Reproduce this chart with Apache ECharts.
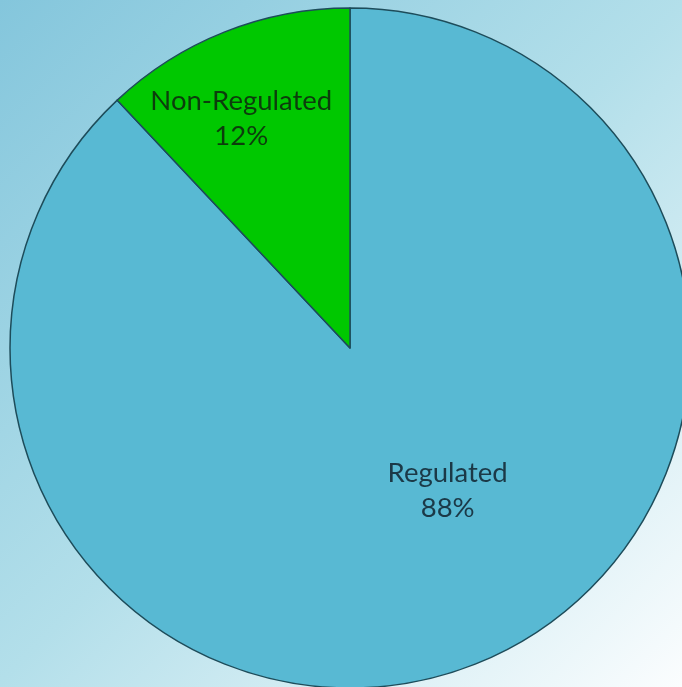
<!DOCTYPE html>
<html>
<head>
<meta charset="utf-8">
<script src="https://cdn.jsdelivr.net/npm/echarts@6/dist/echarts.min.js"></script>
<style>
html, body { margin: 0; padding: 0; }
#main { width: 682px; height: 687px; }
</style>
</head>
<body>
<div id="main"></div>
<script>
var categories = ['Regulated', 'Non-Regulated'];
var shares = [88, 12];
var sliceColors = ['#58b9d3', '#00c800'];
var labelColors = ['#1b3947', '#0c3d0c'];
// nudges so labels sit where the original put them
var labelShift = [[34, -18], [-45, -69]];

var chart = echarts.init(document.getElementById('main'));

var pieData = categories.map(function (name, i) {
    return {
        name: name,
        value: shares[i],
        itemStyle: { color: sliceColors[i] },
        label: { color: labelColors[i] }
    };
});

var option = {
    backgroundColor: {
        type: 'linear',
        x: 0, y: 0, x2: 1, y2: 1,
        colorStops: [
            { offset: 0, color: '#84c6dc' },
            { offset: 0.5, color: '#b3dfea' },
            { offset: 1, color: '#fbfdfe' }
        ]
    },
    series: [{
        type: 'pie',
        center: [350, 348],
        radius: [0, 340],
        startAngle: 90,
        clockwise: true,
        animation: false,
        silent: true,
        itemStyle: {
            borderColor: '#1d4c5a',
            borderWidth: 1.5
        },
        label: {
            show: true,
            position: 'inside',
            fontFamily: 'Lato',
            fontSize: 27.5,
            lineHeight: 35,
            formatter: function (p) {
                return p.name + '\n' + p.value + '%';
            }
        },
        labelLine: { show: false },
        labelLayout: function (p) {
            var s = labelShift[p.dataIndex];
            return { dx: s[0], dy: s[1] };
        },
        data: pieData
    }]
};

chart.setOption(option);
window.onresize = chart.resize;
</script>
</body>
</html>
